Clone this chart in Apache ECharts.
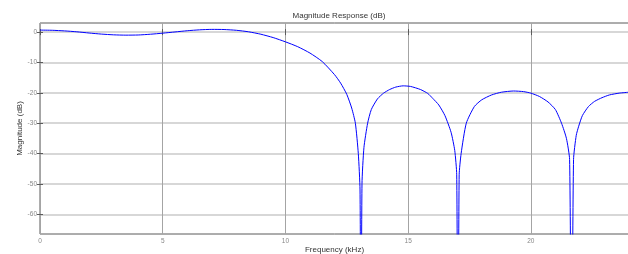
<!DOCTYPE html>
<html>
<head>
<meta charset="utf-8">
<script src="https://cdn.jsdelivr.net/npm/echarts@6/dist/echarts.min.js"></script>
<style>
html, body { margin: 0; padding: 0; background: #fff; }
#chart { width: 628px; height: 254px; }
</style>
</head>
<body>
<div id="chart"></div>
<script>
// frequency (kHz) / magnitude (dB)
var freqs = [0, 0.5, 1, 1.5, 2, 2.5, 3, 3.5, 4, 4.5, 5, 5.5, 6, 6.5, 7, 7.5, 8, 8.5, 9, 9.5,
	10, 10.5, 11, 11.5, 12, 12.25, 12.5, 12.7, 12.85, 12.97, 13.04, 13.08, 13.12, 13.2, 13.35, 13.5, 13.75,
	14, 14.25, 14.5, 14.8, 15.1, 15.5, 15.8, 16, 16.25, 16.5, 16.75, 16.9, 16.98, 17.03, 17.08, 17.16,
	17.37, 17.7, 18, 18.4, 18.8, 19.3, 19.7, 20, 20.35, 20.7, 21, 21.25, 21.45, 21.58, 21.66, 21.74,
	21.85, 21.95, 22.1, 22.35, 22.6, 22.9, 23.2, 23.6, 24];
var magDb = [0.66, 0.6, 0.4, 0.1, -0.3, -0.65, -0.9, -1.0, -0.95, -0.7, -0.35, 0.05, 0.45, 0.75, 0.9, 0.85, 0.6, 0.1, -0.7, -1.8,
	-3.2, -4.8, -6.9, -9.7, -14.0, -16.8, -20.5, -25, -30, -40, -52, -120, -50, -38, -30, -25.5, -22,
	-20.1, -18.9, -18.1, -17.7, -17.9, -18.9, -20.2, -21.8, -24, -27.5, -33, -39, -47, -120, -47, -40,
	-30, -24.5, -22.3, -20.7, -19.8, -19.4, -19.6, -20.1, -21.2, -23, -25.5, -30, -35, -42, -120, -42,
	-34, -31, -27.5, -24.5, -22.8, -21.6, -20.7, -20.1, -19.8];
var xTicks = [0, 5, 10, 15, 20];
var yTicks = [-60, -50, -40, -30, -20, -10, 0];

var chart = echarts.init(document.getElementById('chart'));

var points = [];
for (var i = 0; i < freqs.length; i++) {
	points.push([freqs[i], magDb[i]]);
}

var font = 'Liberation Sans, Arial, sans-serif';
var frameColor = '#5a5a5a';

function tickStyle() {
	return { show: true, inside: true, length: 3, lineStyle: { color: frameColor } };
}

var option = {
	animation: false,
	title: {
		text: 'Magnitude Response (dB)',
		left: 334,
		top: 7,
		textAlign: 'center',
		textStyle: { fontFamily: font, fontSize: 8, fontWeight: 'normal', color: '#333' }
	},
	grid: {
		left: 40,
		right: -1,
		top: 23,
		bottom: 20,
		outerBoundsMode: 'none',
		containLabel: false,
		show: true,
		borderColor: frameColor,
		borderWidth: 1
	},
	xAxis: [{
		type: 'value',
		min: 0,
		max: 24,
		name: 'Frequency (kHz)',
		nameLocation: 'middle',
		nameGap: 12,
		nameMoveOverlap: false,
		nameTextStyle: { fontFamily: font, fontSize: 8, color: '#333' },
		axisLine: { show: false },
		axisTick: Object.assign(tickStyle(), { customValues: xTicks }),
		axisLabel: { margin: 4, fontFamily: font, fontSize: 6.5, color: '#888', customValues: xTicks },
		splitLine: { show: true, lineStyle: { color: '#a4a4a4', width: 1 } }
	}, {
		type: 'value',
		position: 'top',
		min: 0,
		max: 24,
		axisLine: { show: false },
		axisTick: Object.assign(tickStyle(), { customValues: xTicks }),
		axisLabel: { show: false },
		splitLine: { show: false }
	}],
	yAxis: [{
		type: 'value',
		min: -66.5,
		max: 3,
		name: 'Magnitude (dB)',
		nameLocation: 'middle',
		nameGap: 16,
		nameMoveOverlap: false,
		nameTextStyle: { fontFamily: font, fontSize: 8, color: '#333' },
		axisLine: { show: false },
		axisTick: Object.assign(tickStyle(), { customValues: yTicks }),
		axisLabel: { margin: 3, fontFamily: font, fontSize: 6.5, color: '#888', customValues: yTicks },
		splitLine: { show: true, lineStyle: { color: '#cacaca', width: 1.5 } }
	}, {
		type: 'value',
		position: 'right',
		min: -66.5,
		max: 3,
		axisLine: { show: false },
		axisTick: Object.assign(tickStyle(), { customValues: yTicks }),
		axisLabel: { show: false },
		splitLine: { show: false }
	}],
	series: [{
		type: 'line',
		data: points,
		showSymbol: false,
		smooth: 0.2,
		clip: true,
		lineStyle: { color: '#0000ff', width: 1 }
	}]
};

chart.setOption(option);
</script>
</body>
</html>
